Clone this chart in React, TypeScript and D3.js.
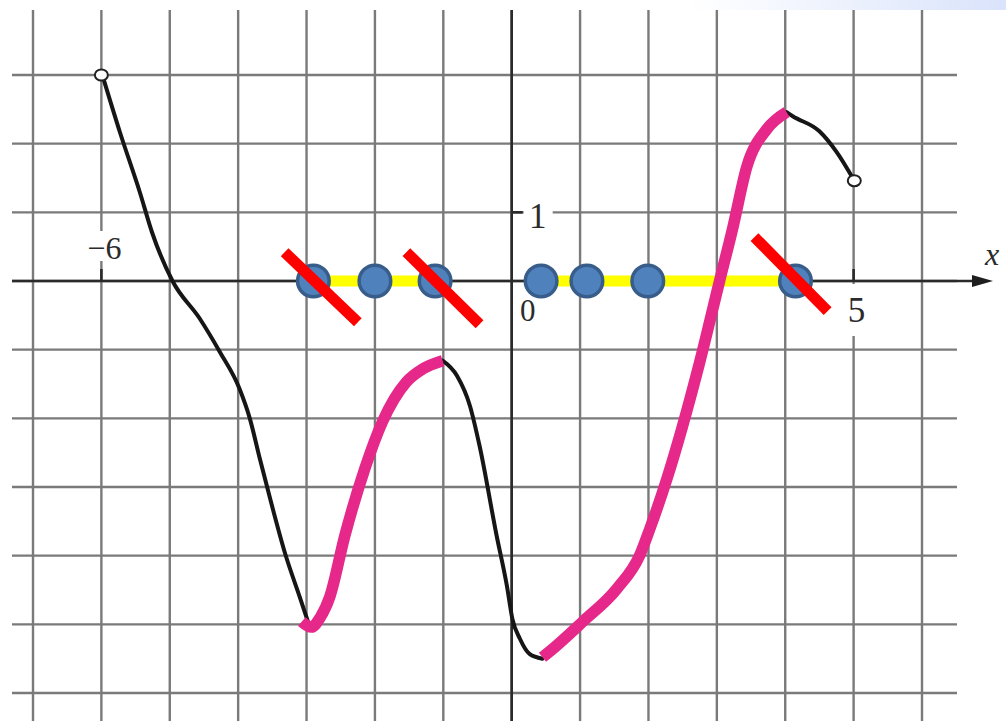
import React from 'react';
import * as d3 from 'd3';

const W = 1006;
const H = 721;

// grid / axis values
const gridXValues = [-7, -6, -5, -4, -3, -2, -1, 0, 1, 2, 3, 4, 5, 6];
const gridYValues = [3, 2, 1, 0, -1, -2, -3, -4, -5, -6];
const xTickLabels = [
  { v: -6, t: '−6' },
  { v: 5, t: '5' },
];
const yTickLabels = [{ v: 1, t: '1' }];

// function graph pieces (x, y)
const blackSeg1: [number, number][] = [
  [-5.98, 2.98], [-5.73, 2.17], [-5.44, 1.3], [-5.26, 0.71], [-4.96, 0],
  [-4.56, -0.55], [-4.27, -1.03], [-3.98, -1.57], [-3.83, -2.0], [-3.68, -2.6],
  [-3.53, -3.18], [-3.31, -3.98], [-3.1, -4.6], [-2.98, -4.96],
];
const pinkSeg1: [number, number][] = [
  [-3.07, -4.96], [-2.93, -5.04], [-2.8, -4.9], [-2.66, -4.6], [-2.44, -3.71],
  [-2.15, -2.74], [-1.89, -2.05], [-1.54, -1.47], [-1.3, -1.28], [-1.01, -1.16],
];
const blackSeg2: [number, number][] = [
  [-1.01, -1.16], [-0.8, -1.38], [-0.61, -1.82], [-0.47, -2.4], [-0.22, -3.71],
  [-0.07, -4.44], [0.01, -4.92], [0.12, -5.21], [0.26, -5.43], [0.45, -5.5],
];
const pinkSeg2: [number, number][] = [
  [0.45, -5.48], [0.55, -5.4], [1.04, -4.96], [1.54, -4.48], [1.87, -4.0],
  [2.02, -3.61], [2.27, -2.88], [2.75, -1.18], [3.04, 0], [3.23, 0.76],
  [3.44, 1.67], [3.73, 2.21], [4.02, 2.46],
];
const blackSeg3: [number, number][] = [
  [4.02, 2.46], [4.11, 2.4], [4.5, 2.18], [4.75, 1.88], [5.01, 1.46],
];
const openEnds: [number, number][] = [
  [-6, 3],
  [5.01, 1.46],
];

// annotations
const yellowRanges: [number, number][] = [
  [-2.9, -1.12],
  [0.43, 4.15],
];
const blueDots = [-2.9, -2.0, -1.12, 0.43, 1.1, 1.99, 4.15];
const redSlashes: [number, number, number, number][] = [
  [-3.32, 0.42, -2.25, -0.6],
  [-1.54, 0.42, -0.47, -0.63],
  [3.55, 0.64, 4.62, -0.44],
];

export default function App() {
  const x = d3.scaleLinear().domain([-7, 6]).range([33, 922]);
  const y = d3.scaleLinear().domain([3, -6]).range([75, 693]);

  const line = d3
    .line<[number, number]>()
    .x((d) => x(d[0]))
    .y((d) => y(d[1]))
    .curve(d3.curveMonotoneX);

  const gridLeft = 12;
  const gridRight = 957;
  const gridTop = 10;
  const gridBottom = H;
  const gridColor = '#7a7a7a';
  const font = '"Liberation Serif", "DejaVu Serif", serif';
  const textColor = '#2b2b2b';

  return (
    <svg
      width={W}
      height={H}
      style={{ position: 'absolute', left: 0, top: 0, background: '#fff' }}
    >
      <defs>
        <linearGradient id="topband" x1="0" x2="1" y1="0" y2="0">
          <stop offset="0" stopColor="#ffffff" />
          <stop offset="1" stopColor="#d9e3fb" />
        </linearGradient>
      </defs>
      <rect x={0} y={0} width={W} height={H} fill="#fff" />
      <rect x={690} y={0} width={W - 690} height={10} fill="url(#topband)" />

      {/* grid */}
      <g stroke={gridColor} strokeWidth={2.4}>
        {gridXValues.map((v) => (
          <line key={'gx' + v} x1={x(v)} x2={x(v)} y1={gridTop} y2={gridBottom} />
        ))}
        {gridYValues.map((v) => (
          <line key={'gy' + v} x1={gridLeft} x2={gridRight} y1={y(v)} y2={y(v)} />
        ))}
      </g>

      {/* axes */}
      <g stroke="#2a2a2a" strokeWidth={2.6}>
        <line x1={x(0)} x2={x(0)} y1={gridTop} y2={gridBottom} />
        <line x1={gridLeft} x2={978} y1={y(0)} y2={y(0)} />
      </g>
      <path
        d={`M${993},${y(0)} L${972},${y(0) - 6} L${972},${y(0) + 6} Z`}
        fill="#1e1e1e"
      />
      {/* ticks */}
      <g stroke="#2a2a2a" strokeWidth={2.6}>
        {xTickLabels.map((d) => (
          <line key={'xt' + d.v} x1={x(d.v)} x2={x(d.v)} y1={y(0) - 12} y2={y(0)} />
        ))}
        {yTickLabels.map((d) => (
          <line key={'yt' + d.v} x1={x(0)} x2={x(0) + 11} y1={y(d.v)} y2={y(d.v)} />
        ))}
      </g>

      {/* labels with white backing */}
      {xTickLabels.map((d) =>
        d.v < 0 ? (
          <g key={'xl' + d.v}>
            <rect x={x(d.v) - 26} y={y(0) - 50} width={56} height={30} fill="#fff" />
            <text
              x={x(d.v) + 3}
              y={y(0) - 22}
              fontSize={32}
              fontFamily={font}
              fill={textColor}
              textAnchor="middle"
            >
              {d.t}
            </text>
          </g>
        ) : (
          <g key={'xl' + d.v}>
            <rect x={x(d.v) - 12} y={y(0) + 3} width={24} height={52} fill="#fff" />
            <text
              x={x(d.v) + 3}
              y={y(0) + 41}
              fontSize={35}
              fontFamily={font}
              fill={textColor}
              textAnchor="middle"
            >
              {d.t}
            </text>
          </g>
        )
      )}
      {yTickLabels.map((d) => (
        <g key={'yl' + d.v}>
          <rect x={x(0) + 12} y={y(d.v) - 14} width={29} height={30} fill="#fff" />
          <text
            x={x(0) + 26}
            y={y(d.v) + 16}
            fontSize={35}
            fontFamily={font}
            fill={textColor}
            textAnchor="middle"
          >
            {d.t}
          </text>
        </g>
      ))}
      <text x={x(0) + 16} y={y(0) + 40} fontSize={31} fontFamily={font} fill={textColor} textAnchor="middle">
        0
      </text>
      <text x={985} y={265} fontSize={32} fontStyle="italic" fontFamily={font} fill={textColor}>
        x
      </text>

      {/* function graph */}
      <g fill="none" strokeLinejoin="round">
        {[blackSeg1, blackSeg2, blackSeg3].map((s, i) => (
          <path key={'b' + i} d={line(s) || ''} stroke="#161616" strokeWidth={4} strokeLinecap="round" />
        ))}
      </g>
      {openEnds.map((p, i) => (
        <ellipse key={'o' + i} cx={x(p[0])} cy={y(p[1])} rx={6.5} ry={5.5} fill="#fff" stroke="#222" strokeWidth={2} />
      ))}

      {/* yellow */}
      <g stroke="#ffff00" strokeWidth={11}>
        {yellowRanges.map((r, i) => (
          <line key={'y' + i} x1={x(r[0])} x2={x(r[1])} y1={y(0)} y2={y(0)} />
        ))}
      </g>

      <g fill="none" strokeLinejoin="round">
        {[pinkSeg1, pinkSeg2].map((s, i) => (
          <path key={'p' + i} d={line(s) || ''} stroke="#e5288a" strokeWidth={11.5} strokeLinecap="butt" />
        ))}
      </g>

      {/* blue dots */}
      {blueDots.map((v, i) => (
        <circle key={'c' + i} cx={x(v)} cy={y(0)} r={15.8} fill="#4f81bd" stroke="#385d8a" strokeWidth={3.5} />
      ))}

      {/* red slashes */}
      <g stroke="#ff0000" strokeWidth={11}>
        {redSlashes.map((s, i) => (
          <line key={'r' + i} x1={x(s[0])} y1={y(s[1])} x2={x(s[2])} y2={y(s[3])} />
        ))}
      </g>
    </svg>
  );
}
